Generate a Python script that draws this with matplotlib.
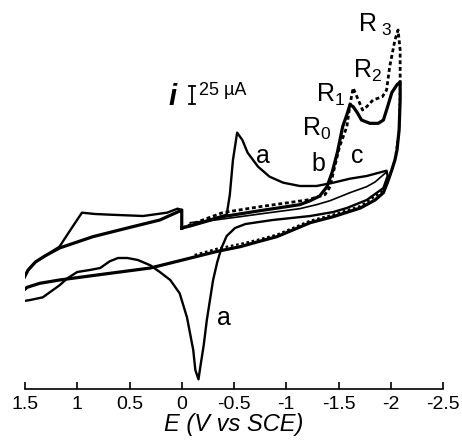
import matplotlib
matplotlib.use("Agg")
import matplotlib.pyplot as plt

plt.rcParams['font.family'] = ['Liberation Sans', 'DejaVu Sans']
plt.rcParams['mathtext.default'] = 'regular'

# curve b (thick): scan from 0 V to -2.1 V, back to 1.5 V and back to 0 V
E_b = [0.0, -0.08, -0.39, -0.75, -1.13, -1.23, -1.32, -1.39, -1.44, -1.49, -1.54, -1.58,
       -1.61, -1.64, -1.68, -1.72, -1.80, -1.88, -1.93, -1.97, -2.01, -2.06, -2.09,
       -2.09, -2.08, -2.06, -2.04, -2.01, -1.97, -1.93, -1.85, -1.71, -1.45, -1.23,
       -0.91, -0.72, -0.56, -0.34, -0.11, 0.30, 0.69, 1.17, 1.36, 1.48, 1.53,
       1.52, 1.47, 1.40, 1.31, 1.17, 0.85, 0.52, 0.21, 0.04, 0.0, 0.0]
i_b = [33, 36, 50, 59, 68, 74, 81, 95, 117, 147, 185, 203,
       218, 215, 206, 195, 190, 190, 195, 215, 236, 248, 252,
       225, 180, 150, 135, 120, 102, 86, 75, 63, 50, 41,
       20, 12, 5, -2, -11, -27, -35, -45, -50, -56, -63,
       -45, -30, -18, -9, 3, 20, 33, 45, 57, 60, 33]

# curve a: reduction peak near -0.55 V, oxidation peak near -0.15 V
E_a = [0.0, -0.17, -0.43, -0.46, -0.49, -0.53, -0.58, -0.63, -0.73, -0.84, -0.97, -1.13,
       -1.29, -1.45, -1.61, -1.77, -1.96, -1.97, -1.93, -1.77, -1.58, -1.45, -1.23,
       -0.87, -0.61, -0.51, -0.43, -0.38, -0.34, -0.30, -0.27, -0.24, -0.21, -0.18,
       -0.16, -0.13, -0.11, -0.05, 0.02, 0.11, 0.21, 0.30, 0.42, 0.52, 0.61, 0.69,
       0.78, 0.88, 1.00, 1.09, 1.17, 1.33, 1.45, 1.53, 1.54, 1.52, 1.47, 1.40, 1.31,
       1.17, 1.07, 0.955, 0.83, 0.69, 0.37, 0.14, 0.04, 0.0]
i_a = [33, 41, 53, 83, 135, 176, 165, 146, 125, 110, 101, 96,
       96, 101, 107, 111, 119, 111, 93, 75, 63, 57, 51,
       45, 39, 33, 21, 3, -18, -45, -75, -105, -143, -173,
       -194, -180, -150, -101, -65, -45, -33, -23, -15, -12, -12, -17,
       -27, -30, -33, -42, -53, -71, -75, -77, -63, -45, -30, -18, -9,
       5, 29, 56, 54, 53, 51, 56, 62, 60]

# curve c (dotted): forward scan showing R1, R2, R3
E_c = [0.0, -0.15, -0.39, -0.75, -1.20, -1.37, -1.42, -1.45, -1.51, -1.58, -1.61, -1.64,
       -1.69, -1.73, -1.77, -1.83, -1.92, -1.96, -1.99, -2.04, -2.07, -2.09, -2.09]
i_c = [33, 42, 56, 65, 75, 83, 95, 116, 155, 185, 218, 243,
       225, 210, 215, 225, 230, 240, 275, 315, 330, 300, 252]

# curve c return (mostly hidden under b)
E_c_back = [-2.09, -2.08, -2.04, -1.97, -1.93, -1.71, -1.45, -1.23, -0.91, -0.72, -0.56,
            -0.34, -0.11]
i_c_back = [252, 180, 135, 102, 89, 66, 53, 44, 23, 15, 9, 2, -8]

# thin return branch from the -1.95 V corner
E_in = [-1.96, -1.85, -1.77, -1.61, -1.42, -1.29, -1.13, -0.84, -0.56, -0.27, -0.08]
i_in = [117, 102, 95, 86, 74, 68, 62, 56, 50, 44, 41]

x_ticks = [1.5, 1, 0.5, 0, -0.5, -1, -1.5, -2, -2.5]
x_ticklabels = ['1.5', '1', '0.5', '0', '-0.5', '-1', '-1.5', '-2', '-2.5']

fig = plt.figure(figsize=(4.62, 4.42), dpi=100)
ax = fig.add_axes([25 / 462, 53 / 442, 418 / 462, 379 / 442])

ax.plot(E_in, i_in, color='black', lw=1.2, solid_capstyle='round')
ax.plot(E_c_back, i_c_back, color='black', lw=1.6, linestyle=(0, (1.2, 1.2)))
ax.plot(E_a, i_a, color='black', lw=1.7, solid_joinstyle='round')
ax.plot(E_b, i_b, color='black', lw=2.3, solid_joinstyle='round')
ax.plot(E_c, i_c, color='black', lw=2.0, linestyle=(0, (1.4, 1.0)))

ax.set_xlim(1.5, -2.5)
ax.set_ylim(-208.5, 360)

# only the bottom axis is shown
for side in ['left', 'right', 'top']:
    ax.spines[side].set_visible(False)
ax.spines['bottom'].set_linewidth(1.2)
ax.set_yticks([])
ax.set_xticks(x_ticks)
ax.set_xticklabels(x_ticklabels)
ax.tick_params(axis='x', direction='in', length=5, width=1.2, pad=5, labelsize=14)
ax.set_xlabel('E (V vs SCE)', fontsize=17, style='italic', labelpad=0)

# current scale bar
ax.plot([-0.098, -0.098], [219, 246], color='black', lw=1.3)
ax.plot([-0.07, -0.13], [219, 219], color='black', lw=1.3)
ax.plot([-0.07, -0.13], [246, 246], color='black', lw=1.3)
ax.text(0.09, 230, 'i', fontsize=21, style='italic', fontweight='bold', ha='center', va='center')
ax.text(-0.165, 239, '25 µA', fontsize=13, ha='left', va='center')

# curve and peak labels
ax.text(-0.78, 130, 'a', fontsize=18, ha='center', va='baseline')
ax.text(-0.40, -112, 'a', fontsize=18, ha='center', va='baseline')
ax.text(-1.31, 118, 'b', fontsize=18, ha='center', va='baseline')
ax.text(-1.68, 130, 'c', fontsize=18, ha='center', va='baseline')
ax.text(-1.15, 172, 'R$_0$', fontsize=18, ha='left', va='baseline')
ax.text(-1.28, 222, 'R$_1$', fontsize=18, ha='left', va='baseline')
ax.text(-1.64, 258, 'R$_2$', fontsize=18, ha='left', va='baseline')
ax.text(-1.69, 327, 'R$_{\\ 3}$', fontsize=18, ha='left', va='baseline')

fig.savefig('out.png', dpi=100)
